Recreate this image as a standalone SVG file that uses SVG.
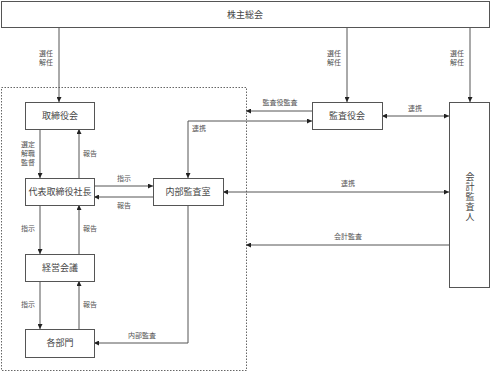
<svg xmlns="http://www.w3.org/2000/svg" width="491" height="372" viewBox="0 0 491 372">
<style>
.box{fill:#fff;stroke:#555;stroke-width:1}
.t{font-family:"Liberation Serif","Noto Sans CJK JP",serif;font-size:9px;fill:#444;text-anchor:middle}
.l{font-family:"Liberation Serif","Noto Sans CJK JP",serif;font-size:7px;fill:#555;text-anchor:middle}
.c{fill:none;stroke:#555;stroke-width:1}
</style>
<defs>
<marker id="a" viewBox="0 0 10 10" refX="10" refY="5" markerWidth="5" markerHeight="5" orient="auto-start-reverse" markerUnits="userSpaceOnUse"><path d="M0,0L10,5L0,10z" fill="#222"/></marker>
</defs>
<rect x="1.5" y="87.5" width="245" height="283" fill="none" stroke="#666" stroke-width="1" stroke-dasharray="1.5,1.5"/>
<g id="connectors">
<path class="c" d="M59,27V102" marker-end="url(#a)"/>
<path class="c" d="M347,27V102" marker-end="url(#a)"/>
<path class="c" d="M470,27V102" marker-end="url(#a)"/>
<path class="c" d="M40,129V178" marker-end="url(#a)"/>
<path class="c" d="M79,178V129" marker-end="url(#a)"/>
<path class="c" d="M40,205V254" marker-end="url(#a)"/>
<path class="c" d="M79,254V205" marker-end="url(#a)"/>
<path class="c" d="M40,281V329" marker-end="url(#a)"/>
<path class="c" d="M79,329V281" marker-end="url(#a)"/>
<path class="c" d="M94,186H153" marker-end="url(#a)"/>
<path class="c" d="M153,197H94" marker-end="url(#a)"/>
<path class="c" d="M312,111H246" marker-end="url(#a)"/>
<path class="c" d="M188,178V121H312" marker-start="url(#a)" marker-end="url(#a)"/>
<path class="c" d="M382,116H449" marker-start="url(#a)" marker-end="url(#a)"/>
<path class="c" d="M223,192H449" marker-start="url(#a)" marker-end="url(#a)"/>
<path class="c" d="M449,245H246" marker-end="url(#a)"/>
<path class="c" d="M188,205V343H94" marker-end="url(#a)"/>
<text class="l" x="46" y="56">選任</text>
<text class="l" x="46" y="65">解任</text>
<text class="l" x="334" y="56">選任</text>
<text class="l" x="334" y="65">解任</text>
<text class="l" x="457" y="56">選任</text>
<text class="l" x="457" y="65">解任</text>
<text class="l" x="28" y="147">選定</text>
<text class="l" x="28" y="156">解職</text>
<text class="l" x="28" y="165">監督</text>
<text class="l" x="90" y="156">報告</text>
<text class="l" x="28" y="231">指示</text>
<text class="l" x="90" y="231">報告</text>
<text class="l" x="28" y="307">指示</text>
<text class="l" x="90" y="307">報告</text>
<text class="l" x="124" y="181">指示</text>
<text class="l" x="124" y="208">報告</text>
<text class="l" x="280" y="105">監査役監査</text>
<text class="l" x="199" y="131">連携</text>
<text class="l" x="415" y="111">連携</text>
<text class="l" x="348" y="186">連携</text>
<text class="l" x="348" y="239">会計監査</text>
<text class="l" x="142" y="338">内部監査</text>
</g>
<g id="n1"><rect class="box" x="1.5" y="1.5" width="488" height="26"/><text class="t" x="245" y="18">株主総会</text></g>
<g id="n2"><rect class="box" x="25.5" y="102.5" width="69" height="27"/><text class="t" x="60" y="119">取締役会</text></g>
<g id="n3"><rect class="box" x="25.5" y="178.5" width="69" height="27"/><text class="t" x="60" y="195">代表取締役社長</text></g>
<g id="n4"><rect class="box" x="25.5" y="254.5" width="69" height="27"/><text class="t" x="60" y="271">経営会議</text></g>
<g id="n5"><rect class="box" x="25.5" y="329.5" width="69" height="28"/><text class="t" x="60" y="346">各部門</text></g>
<g id="n6"><rect class="box" x="153.5" y="178.5" width="70" height="27"/><text class="t" x="188" y="195">内部監査室</text></g>
<g id="n7"><rect class="box" x="312.5" y="102.5" width="70" height="27"/><text class="t" x="347" y="119">監査役会</text></g>
<g id="n8"><rect class="box" x="449.5" y="102.5" width="40" height="185"/>
<text class="t" x="470" y="180">会</text><text class="t" x="470" y="190">計</text><text class="t" x="470" y="200">監</text><text class="t" x="470" y="210">査</text><text class="t" x="470" y="220">人</text></g>
</svg>
